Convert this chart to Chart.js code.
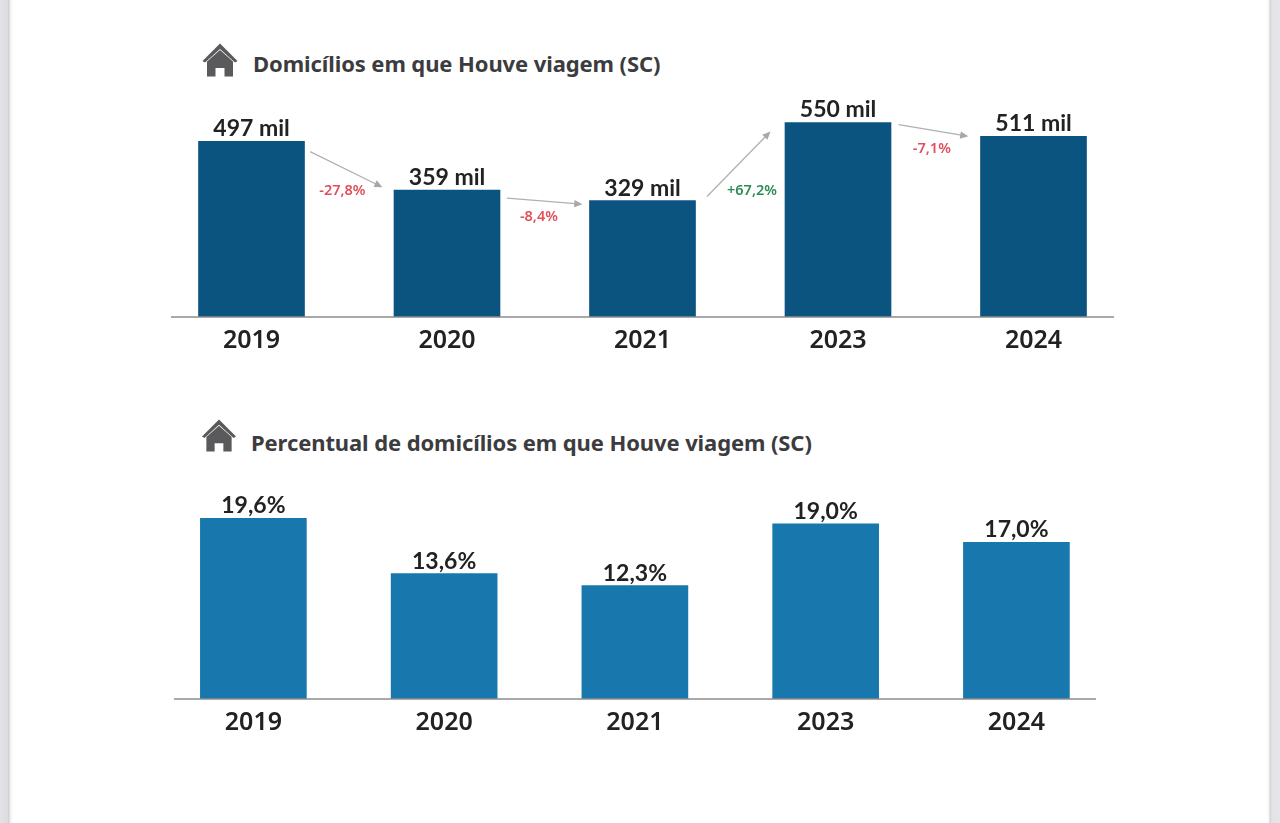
<!DOCTYPE html>
<html><head><meta charset="utf-8">
<script src="https://cdn.jsdelivr.net/npm/chart.js@4"></script>
<style>
html,body{margin:0;padding:0;width:1280px;height:823px;overflow:hidden;background:#fff}
#page{position:absolute;left:0;top:0;width:1280px;height:823px;filter:blur(0.4px);
 background:linear-gradient(to right,#e3e3e7 0,#dcdce0 8px,#c9c9cd 9px,#f3f3f3 10px,#f3f3f3 11px,#fff 13px,#fff 1267px,#f3f3f3 1269px,#d4d4d8 1270px,#e3e3e7 1272px,#e6e6ea 1280px)}
canvas{position:absolute;left:0}
.t{position:absolute;font-family:"Noto Sans",sans-serif;font-weight:700;color:#3c3c3e;font-size:22px;line-height:28px;white-space:nowrap;letter-spacing:-.1px}
svg{position:absolute}
</style></head><body>
<div id="page">
<svg style="left:202px;top:43px" width="36" height="35" viewBox="0 0 36 35"><path d="M18 0.5 L35.5 18 L33 19.5 L18 6 L3 19.5 L0.5 18 Z M5 18.5 L18 7 L31 18.5 V33.5 H22.5 V25 H13.5 V33.5 H5 Z" fill="#5a595b"/></svg>
<div class="t" style="left:253px;top:49px">Domicílios em que Houve viagem (SC)</div>
<svg style="left:201px;top:419px" width="36" height="34" viewBox="0 0 36 35"><path d="M18 0.5 L35.5 18 L33 19.5 L18 6 L3 19.5 L0.5 18 Z M5 18.5 L18 7 L31 18.5 V33.5 H22.5 V25 H13.5 V33.5 H5 Z" fill="#5a595b"/></svg>
<div class="t" style="left:251px;top:428px">Percentual de domicílios em que Houve viagem (SC)</div>
<canvas id="c1" style="top:0" width="1280" height="370"></canvas>
<canvas id="c2" style="top:400px" width="1280" height="380"></canvas>
</div>
<script>
const years = ['2019','2020','2021','2023','2024'];
const households = [497,359,329,550,511];
const householdLabels = ['497 mil','359 mil','329 mil','550 mil','511 mil'];
const shares = [19.6,13.6,12.3,19.0,17.0];
const shareLabels = ['19,6%','13,6%','12,3%','19,0%','17,0%'];
const changeLabels = ['-27,8%','-8,4%','+67,2%','-7,1%'];
const changeColors = ['#e0505c','#e0505c','#2e8b57','#e0505c'];
// arrows: start/end in [category position, axis value]
const arrowStart = [[0.30,468],[1.307,336],[2.33,341],[3.31,544]];
const arrowEnd = [[0.67,367],[1.693,319],[2.655,525],[3.667,511]];
const changeAt = [[0.465,357],[1.47,282],[2.56,357],[3.48,475]];

const baseLine = (x0,x1)=>({id:'baseLine',afterDatasetsDraw(ch){
  const c=ch.ctx,y=ch.scales.y.getPixelForValue(0);
  c.save();c.strokeStyle='#8c8c8c';c.lineWidth=1.6;
  c.beginPath();c.moveTo(x0,y);c.lineTo(x1,y);c.stroke();c.restore();
}});
const valueLabels=(labels,font,gap)=>({id:'valueLabels',afterDatasetsDraw(ch){
  const c=ch.ctx,m=ch.getDatasetMeta(0);
  c.save();c.font=font;c.fillStyle='#222';c.textAlign='center';c.textBaseline='bottom';
  m.data.forEach((b,i)=>c.fillText(labels[i],b.x,b.y-gap));c.restore();
}});
const arrows={id:'arrows',afterDatasetsDraw(ch){
  const c=ch.ctx,X=ch.scales.x,Y=ch.scales.y;
  c.save();
  arrowStart.forEach((s,i)=>{
    const e=arrowEnd[i],x0=X.getPixelForValue(s[0]),y0=Y.getPixelForValue(s[1]),
          x1=X.getPixelForValue(e[0]),y1=Y.getPixelForValue(e[1]),a=Math.atan2(y1-y0,x1-x0);
    c.strokeStyle='#b0b0b0';c.fillStyle='#a8a8a8';c.lineWidth=1.3;
    c.beginPath();c.moveTo(x0,y0);c.lineTo(x1-4*Math.cos(a),y1-4*Math.sin(a));c.stroke();
    c.beginPath();c.moveTo(x1,y1);
    c.lineTo(x1-9*Math.cos(a-.42),y1-9*Math.sin(a-.42));
    c.lineTo(x1-9*Math.cos(a+.42),y1-9*Math.sin(a+.42));c.closePath();c.fill();
    c.font='600 14.5px "Noto Sans"';c.fillStyle=changeColors[i];c.textAlign='center';c.textBaseline='middle';
    c.fillText(changeLabels[i],X.getPixelForValue(changeAt[i][0]),Y.getPixelForValue(changeAt[i][1]));
  });
  c.restore();
}};
function build(id,values,color,yMax,pad,axisH,plugins){
  return new Chart(document.getElementById(id),{
    type:'bar',
    data:{labels:years,datasets:[{data:values,backgroundColor:color,barThickness:106}]},
    options:{responsive:false,animation:false,devicePixelRatio:1,
      layout:{padding:pad},
      plugins:{legend:{display:false},tooltip:{enabled:false},title:{display:false}},
      scales:{
        x:{grid:{display:false},border:{display:false},afterFit:s=>{s.height=axisH},
           ticks:{color:'#222',padding:1,maxRotation:0,font:{family:'"Noto Sans"',size:25,weight:'600'}}},
        y:{display:false,min:0,max:yMax}
      }},
    plugins});
}
build('c1',households,'#0b5480',600,{left:153.75,right:148.75,top:104.9,bottom:0},53,
  [baseLine(171,1114),arrows,valueLabels(householdLabels,'700 23px Lato',1)]);
build('c2',shares,'#1878ae',25,{left:158,right:168.2,top:68.6,bottom:0},81,
  [baseLine(174,1096),valueLabels(shareLabels,'700 23px Lato',1)]);
</script>
</body></html>
